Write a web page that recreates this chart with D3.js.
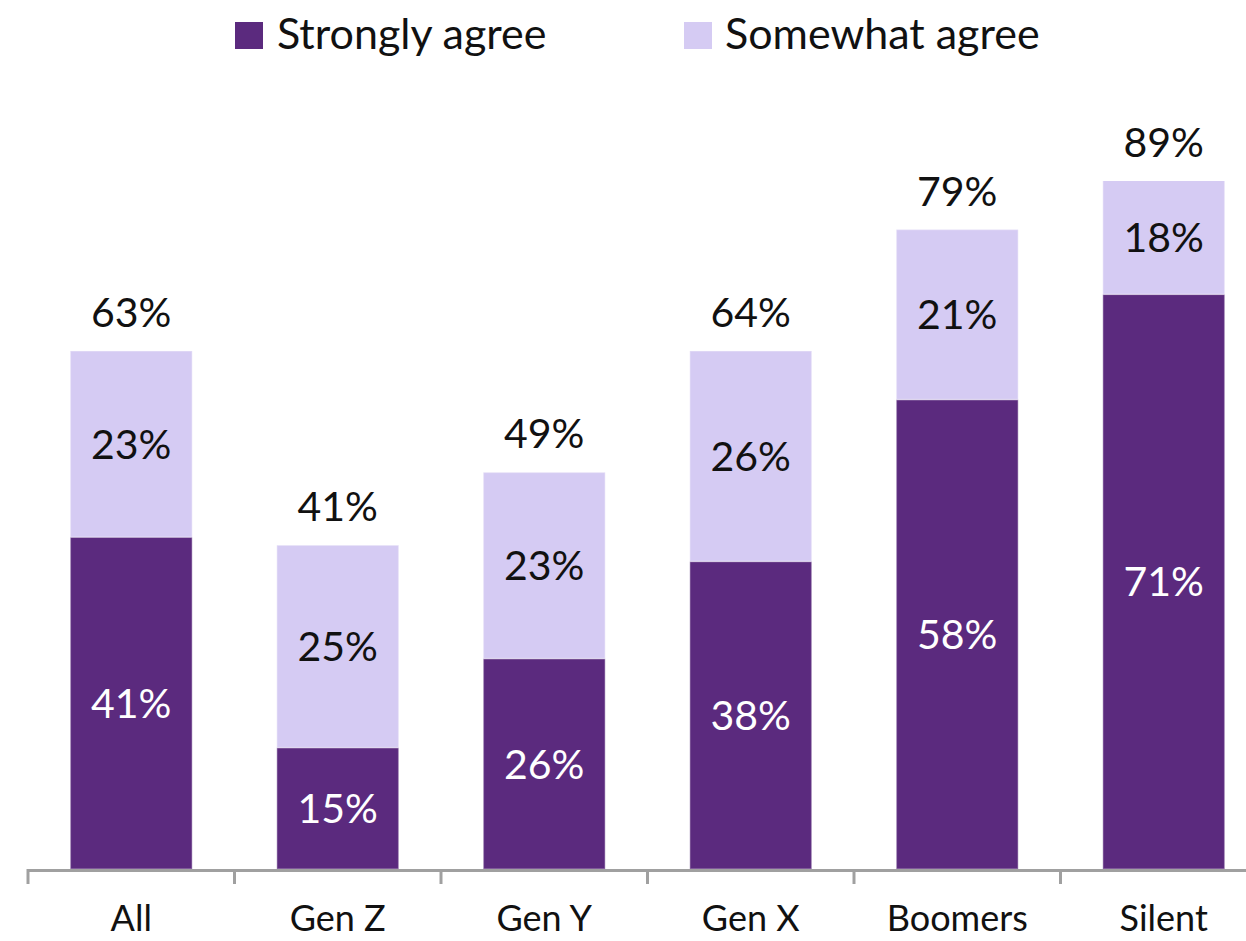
<!DOCTYPE html>
<html>
<head>
<meta charset="utf-8">
<script src="https://cdn.jsdelivr.net/npm/d3@7"></script>
<style>
  html, body { margin: 0; padding: 0; background: #fff; }
  svg { display: block; }
  text { font-family: Lato, "Open Sans", sans-serif; }
</style>
</head>
<body>
<svg id="chart" width="1246" height="941"></svg>
<script>
const categories = ["All", "Gen Z", "Gen Y", "Gen X", "Boomers", "Silent"];
const stronglyAgree = [41, 15, 26, 38, 58, 71];
const somewhatAgree = [23, 25, 23, 26, 21, 18];
const totals = [63, 41, 49, 64, 79, 89];
const seriesNames = ["Strongly agree", "Somewhat agree"];
const seriesColors = ["#5B2A7E", "#D5CBF3"];
const labelColors = ["#ffffff", "#111111"];

const svg = d3.select("#chart");
const W = 1246, H = 941;
const baseY = 869, topY = 181;
const yMax = 85;

const x = d3.scaleBand().domain(categories).range([28, 28 + 6 * 206.5])
  .paddingInner(0.41).paddingOuter(0.205);
const y = d3.scaleLinear().domain([0, yMax]).range([baseY, topY]);

const rows = categories.map((c, i) => ({ cat: c, strong: stronglyAgree[i], some: somewhatAgree[i], total: totals[i] }));
const stack = d3.stack().keys(["strong", "some"])(rows);

svg.append("defs").append("clipPath").attr("id", "plot")
  .append("rect").attr("x", 0).attr("y", topY).attr("width", W).attr("height", baseY - topY);

const gBars = svg.append("g").attr("clip-path", "url(#plot)");
stack.forEach((layer, li) => {
  gBars.selectAll(null).data(layer).join("rect")
    .attr("x", d => x(d.data.cat))
    .attr("width", x.bandwidth())
    .attr("y", d => y(d[1]))
    .attr("height", d => y(d[0]) - y(d[1]))
    .attr("fill", seriesColors[li])
    .attr("stroke", "rgba(255,255,255,0.3)")
    .attr("stroke-width", 1.5);
});

const labFs = 41;
// segment labels
stack.forEach((layer, li) => {
  svg.selectAll(null).data(layer).join("text")
    .attr("x", d => x(d.data.cat) + x.bandwidth() / 2)
    .attr("y", d => (y(d[0]) + y(Math.min(d[1], yMax))) / 2 + labFs * 0.36)
    .attr("text-anchor", "middle")
    .attr("font-size", labFs)
    .attr("fill", labelColors[li])
    .text((d, i) => (li === 0 ? stronglyAgree[i] : somewhatAgree[i]) + "%");
});

// total labels
svg.selectAll(null).data(rows).join("text")
  .attr("x", d => x(d.cat) + x.bandwidth() / 2)
  .attr("y", d => y(Math.min(d.strong + d.some, yMax)) - 24)
  .attr("text-anchor", "middle")
  .attr("font-size", labFs)
  .attr("fill", "#111")
  .text(d => d.total + "%");

// axis
const axisColor = "#A0A0A0";
const [r0, r1] = x.range();
svg.append("line").attr("x1", r0).attr("x2", W).attr("y1", baseY + 1.5).attr("y2", baseY + 1.5)
  .attr("stroke", axisColor).attr("stroke-width", 3);
const step = x.step();
const tickPos = d3.range(categories.length + 1).map(i => r0 + i * step);
svg.selectAll(null).data(tickPos).join("line")
  .attr("x1", d => d).attr("x2", d => d)
  .attr("y1", baseY).attr("y2", baseY + 15)
  .attr("stroke", axisColor).attr("stroke-width", 3);
svg.selectAll(null).data(categories).join("text")
  .attr("x", d => x(d) + x.bandwidth() / 2)
  .attr("y", 931)
  .attr("text-anchor", "middle")
  .attr("font-size", 36)
  .attr("fill", "#111")
  .text(d => d);

// legend
const legend = [{ sx: 235, tx: 277 }, { sx: 684, tx: 725 }];
legend.forEach((p, i) => {
  svg.append("rect").attr("x", p.sx).attr("y", 22).attr("width", 28).attr("height", 27)
    .attr("fill", seriesColors[i]);
  svg.append("text").attr("x", p.tx).attr("y", 49)
    .attr("font-size", 43).attr("fill", "#111").text(seriesNames[i]);
});
</script>
</body>
</html>
